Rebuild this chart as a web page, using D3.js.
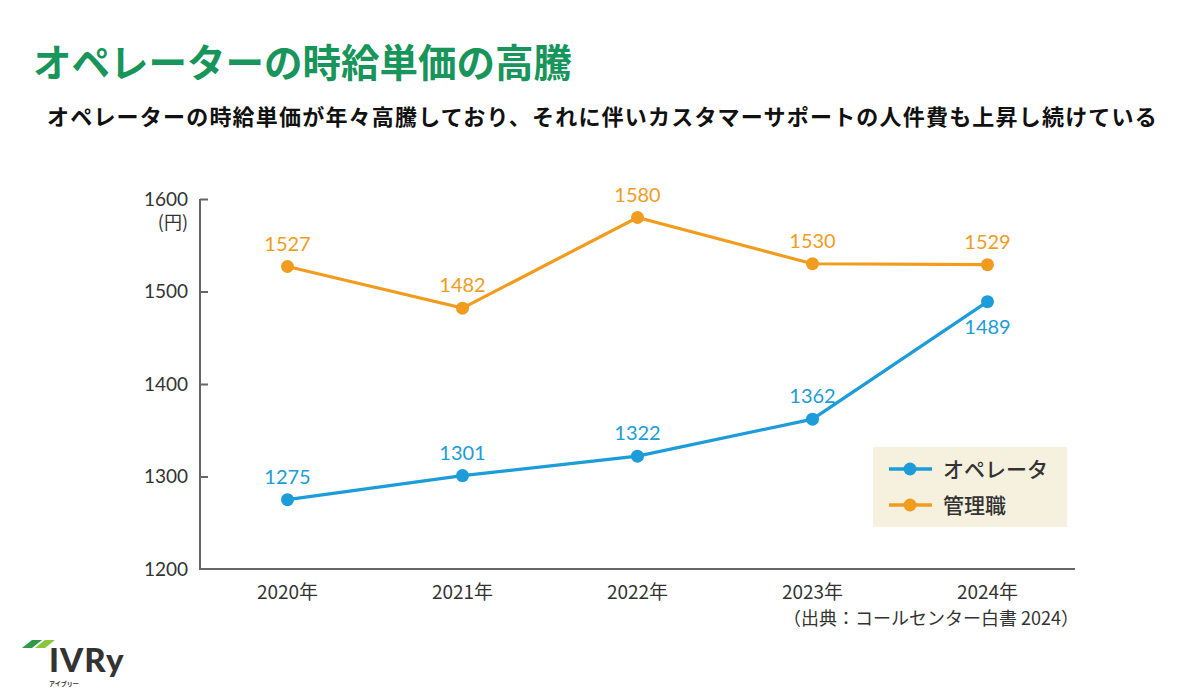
<!DOCTYPE html>
<html><head><meta charset="utf-8">
<script src="https://cdn.jsdelivr.net/npm/d3@7"></script>
<style>
html,body{margin:0;padding:0;background:#fff;}
svg{display:block;}
</style></head>
<body>
<svg id="c" width="1200" height="691"></svg>
<script>
const years = ["2020年","2021年","2022年","2023年","2024年"];
const operatorValues = [1275,1301,1322,1362,1489];
const managerValues = [1527,1482,1580,1530,1529];
const yTicks = [1200,1300,1400,1500,1600];
const seriesNames = ["オペレータ","管理職"];
const titleText = "オペレーターの時給単価の高騰";
const subtitleText = "オペレーターの時給単価が年々高騰しており、それに伴いカスタマーサポートの人件費も上昇し続けている";
const sourceText = "（出典：コールセンター白書 2024）";

const svg = d3.select("#c");
const jp = "'Noto Sans CJK JP','Noto Sans',sans-serif";
const num = "'Lato','Noto Sans',sans-serif";
const blue = "#1C9CD8", orange = "#F19C1F", axisC = "#666";

svg.append("text").attr("x",33).attr("y",77).attr("font-family",jp).attr("font-weight",700)
  .attr("font-size",38.5).attr("fill","#17955A").text(titleText);
svg.append("text").attr("x",47).attr("y",125).attr("font-family",jp).attr("font-weight",700)
  .attr("font-size",22).attr("letter-spacing","1.2px").attr("fill","#111").text(subtitleText);

const x = d3.scalePoint().domain(years).range([200,1075]).padding(0.5);
const y = d3.scaleLinear().domain([1200,1600]).range([569,199]);

// axes
const yAxis = d3.axisRight(y).tickValues(yTicks.filter(t=>t>1200)).tickSize(8).tickFormat("");
const gy = svg.append("g").attr("transform","translate(200,0)").call(yAxis);
gy.select(".domain").remove();
gy.selectAll(".tick line").attr("stroke",axisC).attr("stroke-width",2);
svg.append("path").attr("d",`M200,${y(1600)}V${y(1200)}H1075`).attr("fill","none").attr("stroke",axisC).attr("stroke-width",2);

svg.append("g").selectAll("text").data(yTicks).join("text")
  .attr("x",188).attr("y",d=>y(d)).attr("dy","0.35em").attr("text-anchor","end")
  .attr("font-family",num).attr("font-size",19).attr("fill","#333").text(d=>d);
svg.append("text").attr("x",188).attr("y",y(1600)+24).attr("dy","0.35em").attr("text-anchor","end")
  .attr("font-family",jp).attr("font-size",18).attr("fill","#333").text("(円)");

svg.append("g").selectAll("text").data(years).join("text")
  .attr("x",d=>x(d)).attr("y",592).attr("dy","0.35em").attr("text-anchor","middle")
  .attr("font-family",jp).attr("font-size",19).attr("fill","#333").text(d=>d);

svg.append("text").attr("x",1079).attr("y",619).attr("dy","0.35em").attr("text-anchor","end")
  .attr("font-family",jp).attr("font-size",18).attr("fill","#333").text(sourceText);

const line = d3.line().x((d,i)=>x(years[i])).y(d=>y(d));
function drawSeries(vals,color,labelDy){
  svg.append("path").datum(vals).attr("d",line).attr("fill","none").attr("stroke",color).attr("stroke-width",3.2);
  svg.append("g").selectAll("circle").data(vals).join("circle")
    .attr("cx",(d,i)=>x(years[i])).attr("cy",d=>y(d)).attr("r",6.5).attr("fill",color);
  svg.append("g").selectAll("text").data(vals).join("text")
    .attr("x",(d,i)=>x(years[i])).attr("y",(d,i)=>y(d)+labelDy(i)).attr("dy","0.35em").attr("text-anchor","middle")
    .attr("font-family",num).attr("font-size",20).attr("fill",color).text(d=>d);
}
drawSeries(managerValues,orange,()=>-23);
drawSeries(operatorValues,blue,i=>i===4?25:-23);

// legend
const lg = svg.append("g");
lg.append("rect").attr("x",873).attr("y",447).attr("width",194).attr("height",80).attr("fill","#F6F1DF");
[[blue,469],[orange,505]].forEach(([c,yy],i)=>{
  lg.append("line").attr("x1",889).attr("x2",932).attr("y1",yy).attr("y2",yy).attr("stroke",c).attr("stroke-width",3.5);
  lg.append("circle").attr("cx",910).attr("cy",yy).attr("r",6.5).attr("fill",c);
  lg.append("text").attr("x",943).attr("y",yy).attr("dy","0.36em").attr("font-family",jp).attr("font-weight",500)
    .attr("font-size",21).attr("fill","#333").text(seriesNames[i]);
});

// logo
const logo = svg.append("g");
logo.append("path").attr("d","M32,640 L42,640 L32,648 L22,648 Z").attr("fill","#2E9B48");
logo.append("path").attr("d","M45,640 L55,640 L45,648 L35,648 Z").attr("fill","#8CC63F");
logo.append("text").attr("x",49).attr("y",672).attr("font-family","'Lato','Noto Sans',sans-serif").attr("font-weight",900)
  .attr("font-size",33).attr("letter-spacing","1px").attr("fill","#333").text("IVRy");
logo.append("text").attr("x",49).attr("y",686).attr("font-family",jp).attr("font-weight",700)
  .attr("font-size",6).attr("fill","#333").text("アイブリー");
</script>
</body></html>
